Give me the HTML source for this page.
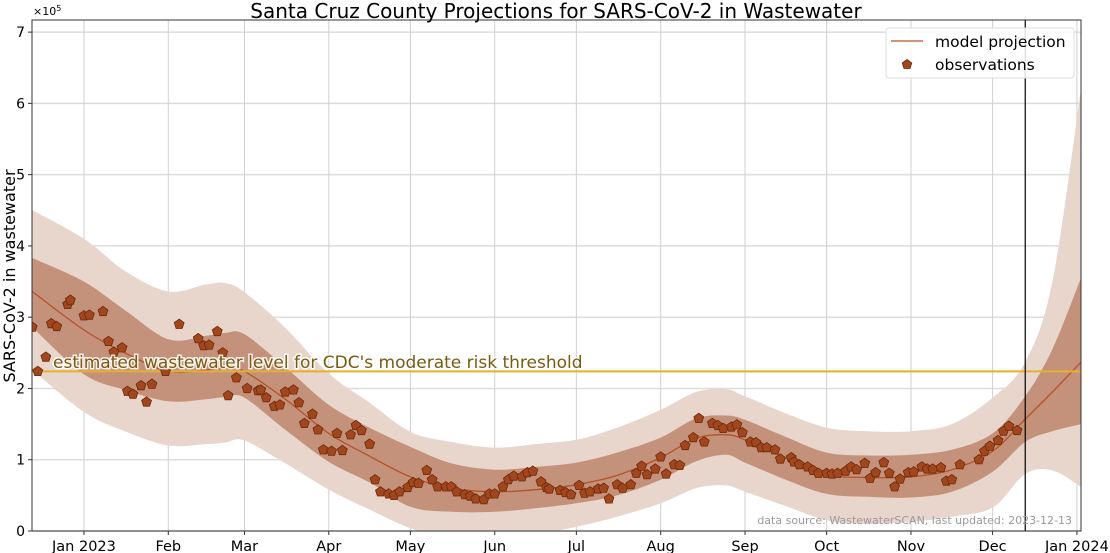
<!DOCTYPE html>
<html><head><meta charset="utf-8">
<style>
html,body{margin:0;padding:0;background:#fff;}
svg{display:block;font-family:"DejaVu Sans","Liberation Sans",sans-serif;}
</style></head>
<body>
<svg id="chart" width="1110" height="553" viewBox="0 0 1110 553" xmlns="http://www.w3.org/2000/svg">
</svg>
<script>
// ---- data (values in units of 1e5) ----
const bandDays   = [-19, 0, 15, 31, 45, 52, 59, 74, 90, 105, 120, 135, 151, 166, 181, 196, 212, 225, 236, 243, 258, 273, 288, 304, 319, 334, 346, 356, 366.5];
const median     = [3.36,2.82,2.5,2.24,2.26,2.28,2.24,1.85,1.37,1.05,0.76,0.6,0.55,0.58,0.65,0.78,1.03,1.3,1.35,1.28,1.02,0.79,0.75,0.76,0.86,1.12,1.57,1.95,2.37];
const innerHi    = [3.83,3.5,3.1,2.69,2.74,2.78,2.76,2.3,1.77,1.45,1.18,0.95,0.86,0.9,0.96,1.1,1.31,1.58,1.62,1.56,1.32,1.1,1.06,1.07,1.14,1.37,1.89,2.55,3.55];
const innerLo    = [2.86,2.2,1.98,1.82,1.85,1.88,1.87,1.42,0.97,0.68,0.34,0.27,0.27,0.32,0.39,0.5,0.72,0.98,1.07,0.96,0.72,0.52,0.48,0.47,0.55,0.83,1.25,1.4,1.5];
const outerHi    = [4.5,4.1,3.65,3.36,3.46,3.48,3.35,2.85,2.21,1.8,1.39,1.25,1.17,1.22,1.28,1.45,1.7,1.95,1.99,1.89,1.65,1.45,1.4,1.4,1.5,1.87,2.37,3.5,6.2];
const outerLo    = [2.26,1.67,1.4,1.2,1.22,1.24,1.27,0.95,0.58,0.3,0.04,-0.1,-0.1,-0.05,0.06,0.2,0.39,0.6,0.64,0.55,0.35,0.15,0.1,0.13,0.2,0.33,0.8,0.85,0.62];
const obsDays = [-19,-17,-14,-12,-10,-6,-5,0,2,7,9,11,14,16,18,21,23,25,30,35,42,44,46,49,51,53,56,60,64,65,67,70,72,74,77,79,81,84,86,88,91,93,95,98,100,102,105,107,109,112,114,116,119,121,123,126,128,130,133,135,137,140,142,144,147,149,151,154,156,158,161,163,165,168,170,171,175,177,179,182,184,186,189,191,193,196,198,201,203,205,207,210,212,214,217,219,221,224,226,228,231,233,235,238,240,242,245,247,249,251,254,256,260,261,263,266,268,270,273,275,277,280,282,284,287,289,291,294,296,298,300,303,305,308,310,312,315,317,319,322,329,331,333,336,338,340,343];
const obsVals = [2.86,2.24,2.44,2.91,2.87,3.18,3.24,3.02,3.03,3.08,2.66,2.51,2.57,1.96,1.92,2.04,1.81,2.06,2.24,2.9,2.7,2.6,2.61,2.8,2.5,1.9,2.15,2.0,1.97,1.98,1.87,1.75,1.77,1.95,1.98,1.8,1.51,1.64,1.42,1.14,1.12,1.37,1.13,1.35,1.48,1.41,1.22,0.72,0.55,0.52,0.5,0.55,0.61,0.68,0.67,0.85,0.72,0.62,0.62,0.62,0.55,0.51,0.49,0.45,0.44,0.52,0.52,0.62,0.72,0.77,0.76,0.82,0.84,0.69,0.61,0.59,0.57,0.54,0.51,0.64,0.53,0.55,0.59,0.6,0.45,0.65,0.6,0.65,0.81,0.91,0.79,0.87,1.04,0.8,0.93,0.92,1.2,1.31,1.58,1.25,1.51,1.48,1.44,1.46,1.49,1.38,1.25,1.24,1.17,1.17,1.14,1.01,1.03,0.97,0.93,0.9,0.85,0.81,0.81,0.8,0.81,0.84,0.9,0.86,0.95,0.74,0.82,0.96,0.81,0.62,0.73,0.82,0.83,0.9,0.87,0.87,0.89,0.7,0.72,0.93,1.0,1.12,1.19,1.27,1.4,1.47,1.41];
const yTicks = [0,1,2,3,4,5,6,7];
const xTickDays = [0,31,59,90,120,151,181,212,243,273,304,334,365];
const xTickLabels = ["Jan 2023","Feb","Mar","Apr","May","Jun","Jul","Aug","Sep","Oct","Nov","Dec","Jan 2024"];
const threshold = [2.24];
const lastUpdateDay = [346];

// ---- layout ----
const L=32,R=1081,T=20,B=531;
const D0=-19.1,D1=366.5,V0=0,V1=7.17;
const x=d=>L+(d-D0)/(D1-D0)*(R-L);
const y=v=>B-(v-V0)/(V1-V0)*(B-T);
const NS="http://www.w3.org/2000/svg";
const svg=document.getElementById('chart');
function mk(tag,attrs,parent){const e=document.createElementNS(NS,tag);for(const k in attrs)e.setAttribute(k,attrs[k]);(parent||svg).appendChild(e);return e;}

const defs=mk('defs',{});
const cp=mk('clipPath',{id:'plotclip'},defs);
mk('rect',{x:L,y:T,width:R-L,height:B-T},cp);

const grid=mk('g',{});


yTicks.forEach(v=>{const l=mk('line',{x1:L,x2:R,y1:y(v),y2:y(v),stroke:'#dcdcdc','stroke-width':1.5},grid);

});
xTickDays.forEach(d=>{const l=mk('line',{x1:x(d),x2:x(d),y1:T,y2:B,stroke:'#d0d0d0','stroke-width':1},grid);

});

function curveThrough(pts,start){let p=start?'M'+pts[0][0]+','+pts[0][1]:' L'+pts[0][0]+','+pts[0][1];
 for(let i=0;i<pts.length-1;i++){const p0=pts[Math.max(0,i-1)],p1=pts[i],p2=pts[i+1],p3=pts[Math.min(pts.length-1,i+2)];
 p+=' C'+(p1[0]+(p2[0]-p0[0])/6).toFixed(1)+','+(p1[1]+(p2[1]-p0[1])/6).toFixed(1)+' '+(p2[0]-(p3[0]-p1[0])/6).toFixed(1)+','+(p2[1]-(p3[1]-p1[1])/6).toFixed(1)+' '+p2[0].toFixed(1)+','+p2[1].toFixed(1);}
 return p;}
function smoothLine(vals){return curveThrough(bandDays.map((d,i)=>[x(d),y(vals[i])]),true);}
function smoothBand(hi,lo){return smoothLine(hi)+curveThrough(bandDays.map((d,i)=>[x(d),y(lo[i])]).reverse(),false)+'Z';}
const plot=mk('g',{'clip-path':'url(#plotclip)'});
const ob=mk('path',{d:smoothBand(outerHi,outerLo),fill:'#e8d5cb'},plot);


const ib=mk('path',{d:smoothBand(innerHi,innerLo),fill:'#c4917a'},plot);


const ml=mk('path',{d:smoothLine(median),fill:'none',stroke:'#b5532a','stroke-width':1.3},plot);



const th=mk('line',{x1:L,x2:R,y1:y(threshold[0]),y2:y(threshold[0]),stroke:'#e6b02e','stroke-width':2},plot);



function pent(cx,cy,r){let p='';for(let k=0;k<5;k++){const a=-Math.PI/2+k*2*Math.PI/5;p+=(k?'L':'M')+(cx+r*Math.cos(a)).toFixed(1)+','+(cy+r*Math.sin(a)).toFixed(1);}return p+'Z';}
obsDays.forEach((d,i)=>{const m=mk('path',{d:pent(x(d),y(obsVals[i]),5.2),fill:'#a1461d',stroke:'#6e2a0c','stroke-width':0.8},plot);

});

const vl=mk('line',{x1:x(lastUpdateDay[0]),x2:x(lastUpdateDay[0]),y1:T,y2:B,stroke:'#000','stroke-width':1.2});



const tl=mk('text',{x:53,y:368,'font-size':17,fill:'#7a5a10',stroke:'#fff','stroke-width':3,'paint-order':'stroke','stroke-opacity':0.85});
tl.textContent="estimated wastewater level for CDC's moderate risk threshold";



const src=mk('text',{x:1072,y:524,'font-size':11,fill:'#9a9a9a','text-anchor':'end'});
src.textContent='data source: WastewaterSCAN, last updated: 2023-12-13';



const fr=mk('rect',{x:L,y:T,width:R-L,height:B-T,fill:'none',stroke:'#333','stroke-width':1});



yTicks.forEach(v=>{mk('line',{x1:L-4,x2:L,y1:y(v),y2:y(v),stroke:'#333'});
const t=mk('text',{x:L-7,y:y(v)+5,'font-size':14,'text-anchor':'end',fill:'#000'});t.textContent=v;

});
xTickDays.forEach((d,i)=>{mk('line',{x1:x(d),x2:x(d),y1:B,y2:B+4,stroke:'#333'});
const t=mk('text',{x:x(d),y:B+20,'font-size':14.5,'text-anchor':'middle',fill:'#000'});t.textContent=xTickLabels[i];

});
</script>
<svg style="position:absolute;left:0;top:0" width="1110" height="553">
<text x="33" y="15" font-size="11" fill="#000" font-family="DejaVu Sans, sans-serif">×10<tspan dy="-4" font-size="8">5</tspan></text>
<text x="556" y="18" font-size="20" text-anchor="middle" font-family="DejaVu Sans, sans-serif">Santa Cruz County Projections for SARS-CoV-2 in Wastewater</text>
<text transform="translate(15,276) rotate(-90)" font-size="16" text-anchor="middle" font-family="DejaVu Sans, sans-serif">SARS-CoV-2 in wastewater</text>
<g font-family="DejaVu Sans, sans-serif">
<rect x="886" y="28" width="188" height="50" rx="3" fill="#fff" fill-opacity="0.85" stroke="#ddd"/>
<line x1="891" x2="923" y1="41" y2="41" stroke="#b5532a" stroke-width="1.3"/>
<text x="935" y="47" font-size="15.5">model projection</text>
<path d="M907,59.5 L911.8,63 L910,68.5 L904,68.5 L902.2,63 Z" fill="#a1461d" stroke="#6e2a0c" stroke-width="0.8"/>
<text x="935" y="70" font-size="15.5">observations</text>
</g>
</svg>
</body></html>
